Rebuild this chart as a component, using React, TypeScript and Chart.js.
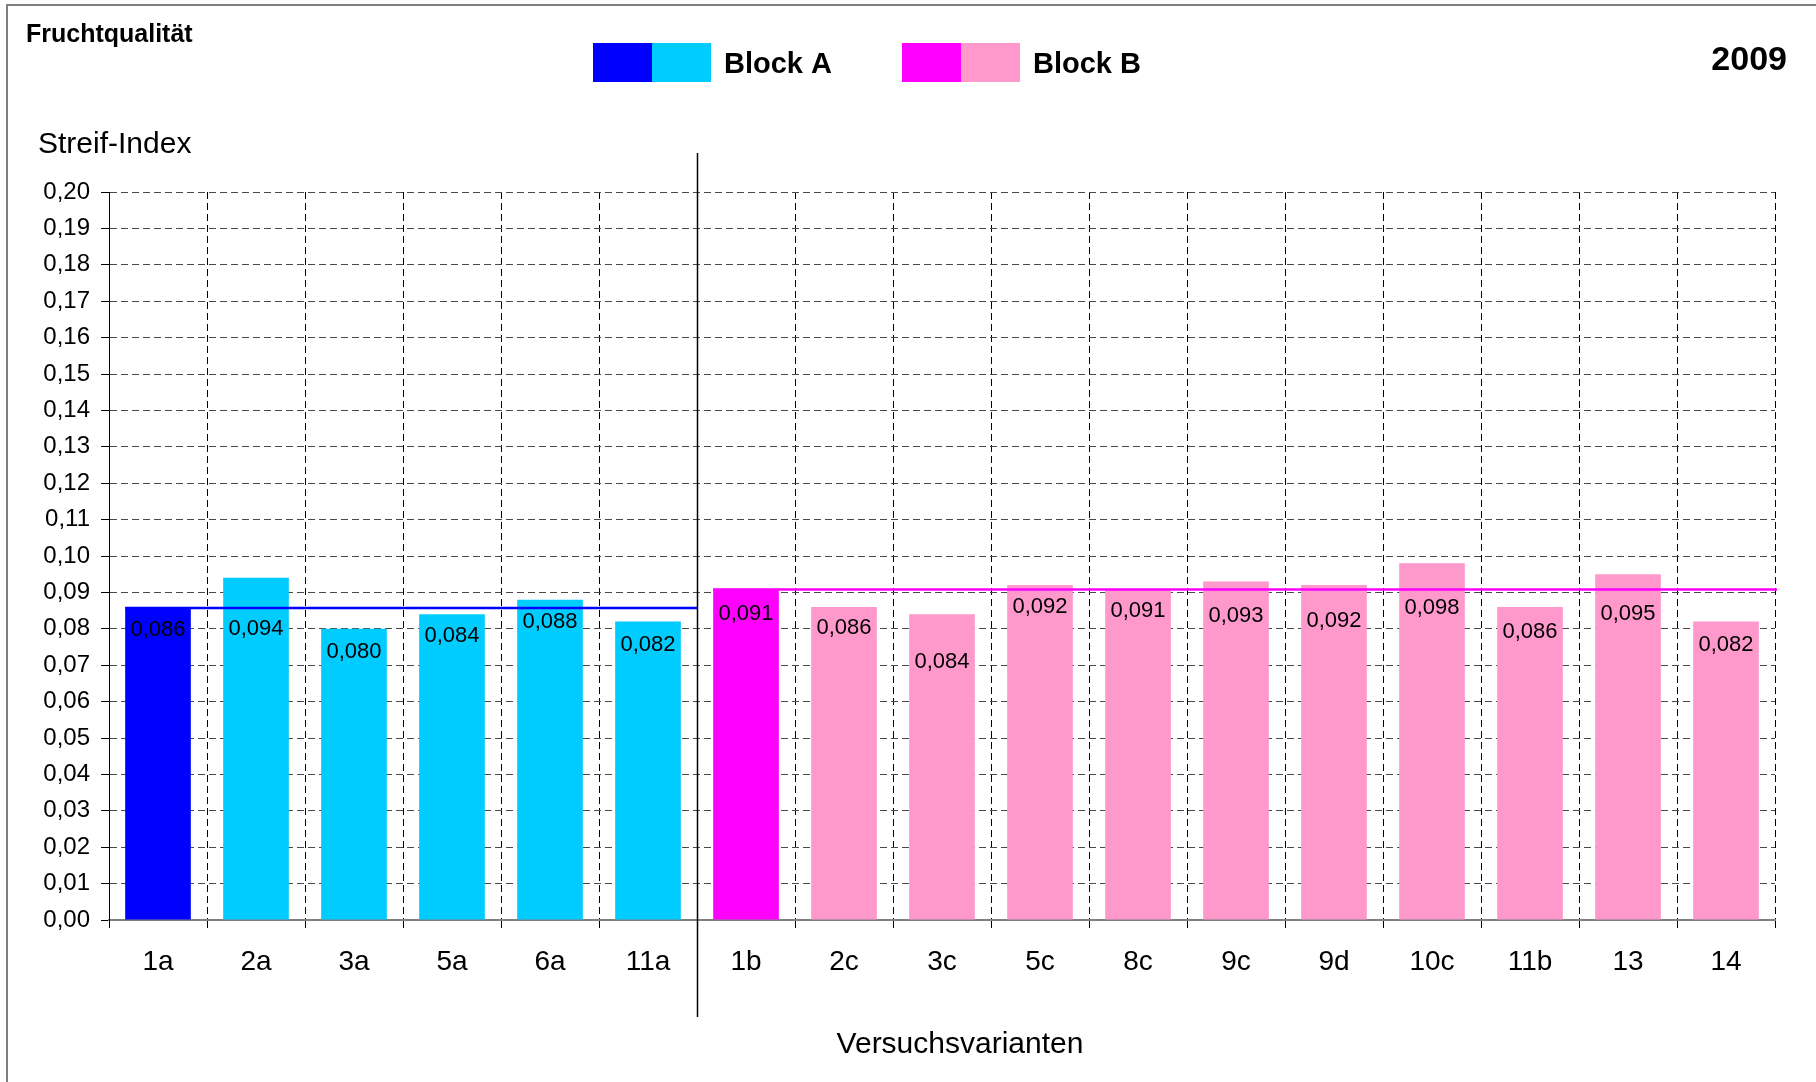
import { useEffect, useRef } from "react";
import { Chart, registerables } from "chart.js";

Chart.register(...registerables);

// Versuchsvarianten, split into the two blocks
const blockALabels = ["1a", "2a", "3a", "5a", "6a", "11a"];
const blockBLabels = ["1b", "2c", "3c", "5c", "8c", "9c", "9d", "10c", "11b", "13", "14"];

// Streif-Index per variant
const blockAValues = [0.086, 0.094, 0.08, 0.084, 0.088, 0.082];
const blockBValues = [0.091, 0.086, 0.084, 0.092, 0.091, 0.093, 0.092, 0.098, 0.086, 0.095, 0.082];

// block averages (horizontal reference lines)
const blockMeans = [0.0857, 0.0908];

// value axis range
const yMin = 0;
const yMax = 0.2;
const yStep = 0.01;

// how far each value label sits below its bar top (px)
const valueLabelDrop = [23, 51, 23, 22, 22, 23, 25, 21, 48, 22, 22, 34, 36, 45, 25, 40, 23];

const FONT = "'Liberation Sans', Arial, Helvetica, sans-serif";
const DARK_BLUE = "#0000FF";
const CYAN = "#00CCFF";
const MAGENTA = "#FF00FF";
const PINK = "#FF99CC";

const categories = [...blockALabels, ...blockBLabels];
const values = [...blockAValues, ...blockBValues];
const nA = blockALabels.length;

const barColor = (i: number) =>
  i === 0 ? DARK_BLUE : i < nA ? CYAN : i === nA ? MAGENTA : PINK;

const fmt = (v: number, digits: number) => v.toFixed(digits).replace(".", ",");

const overlayPlugin = {
  id: "overlay",
  afterDatasetsDraw(chart: any) {
    const { ctx, chartArea, scales } = chart;
    const x = scales.x;
    const y = scales.y;
    const bars = chart.getDatasetMeta(0).data;
    const sepX = Math.round((x.getPixelForValue(nA - 1) + x.getPixelForValue(nA)) / 2);

    ctx.save();
    // block averages
    ctx.lineWidth = 2.5;
    const firstA = bars[0].getProps(["x", "width"], true);
    const yA = y.getPixelForValue(blockMeans[0]);
    ctx.strokeStyle = DARK_BLUE;
    ctx.beginPath();
    ctx.moveTo(firstA.x - firstA.width / 2, yA);
    ctx.lineTo(sepX, yA);
    ctx.stroke();

    const firstB = bars[nA].getProps(["x", "width"], true);
    const yB = y.getPixelForValue(blockMeans[1]);
    ctx.strokeStyle = MAGENTA;
    ctx.beginPath();
    ctx.moveTo(firstB.x - firstB.width / 2, yB);
    ctx.lineTo(chartArea.right + 2, yB);
    ctx.stroke();

    // value labels
    ctx.fillStyle = "#000";
    ctx.font = `22px ${FONT}`;
    ctx.textAlign = "center";
    ctx.textBaseline = "middle";
    values.forEach((v, i) => {
      const bx = bars[i].getProps(["x"], true).x;
      ctx.fillText(fmt(v, 3), bx, y.getPixelForValue(v) + valueLabelDrop[i]);
    });

    // block separator
    ctx.strokeStyle = "#000";
    ctx.lineWidth = 1.5;
    ctx.beginPath();
    ctx.moveTo(sepX + 0.5, chartArea.top - 39);
    ctx.lineTo(sepX + 0.5, chartArea.bottom + 97);
    ctx.stroke();
    ctx.restore();
  },
  afterDraw(chart: any) {
    const { ctx, width, height } = chart;
    ctx.save();

    // frame
    ctx.strokeStyle = "#808080";
    ctx.lineWidth = 2;
    ctx.beginPath();
    ctx.moveTo(7, height);
    ctx.lineTo(7, 5);
    ctx.lineTo(width, 5);
    ctx.stroke();

    ctx.fillStyle = "#000";
    ctx.textBaseline = "alphabetic";

    ctx.textAlign = "left";
    ctx.font = `bold 25px ${FONT}`;
    ctx.fillText("Fruchtqualität", 26, 42);

    ctx.textAlign = "right";
    ctx.font = `bold 34px ${FONT}`;
    ctx.fillText("2009", 1787, 70);

    // legend
    const swW = 59;
    const swTop = 43;
    const swH = 39;
    const legend = [
      { x: 593, colors: [DARK_BLUE, CYAN], text: "Block A" },
      { x: 902, colors: [MAGENTA, PINK], text: "Block B" },
    ];
    ctx.textAlign = "left";
    ctx.font = `bold 29px ${FONT}`;
    legend.forEach((item) => {
      ctx.fillStyle = item.colors[0];
      ctx.fillRect(item.x, swTop, swW, swH);
      ctx.fillStyle = item.colors[1];
      ctx.fillRect(item.x + swW, swTop, swW, swH);
      ctx.fillStyle = "#000";
      ctx.fillText(item.text, item.x + 2 * swW + 13, 73);
    });

    // axis titles
    ctx.font = `30px ${FONT}`;
    ctx.textAlign = "left";
    ctx.fillText("Streif-Index", 38, 153);
    ctx.textAlign = "center";
    ctx.fillText("Versuchsvarianten", 960, 1053);

    ctx.restore();
  },
};

export default function App() {
  const canvasRef = useRef<HTMLCanvasElement | null>(null);

  useEffect(() => {
    const canvas = canvasRef.current;
    if (!canvas) return;
    const chart = new Chart(canvas, {
      type: "bar",
      data: {
        labels: categories,
        datasets: [
          {
            data: values,
            backgroundColor: values.map((_, i) => barColor(i)),
            borderWidth: 0,
            barPercentage: 0.67,
            categoryPercentage: 1,
          },
        ],
      },
      options: {
        responsive: false,
        animation: false,
        devicePixelRatio: 1,
        layout: { padding: { top: 192, right: 41, left: 0, bottom: 0 } },
        plugins: {
          legend: { display: false },
          tooltip: { enabled: false },
          title: { display: false },
        },
        scales: {
          x: {
            grid: {
              color: "#000",
              lineWidth: 1,
              offset: true,
              tickLength: 8,
              tickColor: "#000",
            },
            border: { display: true, color: "#808080", width: 2, dash: [7, 4] },
            ticks: {
              color: "#000",
              font: { family: FONT, size: 28 },
              padding: 17,
              autoSkip: false,
              maxRotation: 0,
            },
            afterFit(scale: any) {
              scale.height = 162;
            },
          },
          y: {
            min: yMin,
            max: yMax,
            grid: { color: "#4a4a4a", lineWidth: 1, tickLength: 8, tickColor: "#000" },
            border: { display: true, color: "#000", width: 1, dash: [7, 4] },
            ticks: {
              stepSize: yStep,
              maxTicksLimit: 25,
              color: "#000",
              font: { family: FONT, size: 24 },
              padding: 11,
              callback: (v: any) => fmt(Number(v), 2),
            },
            afterFit(scale: any) {
              scale.width = 109;
            },
          },
        },
      },
      plugins: [overlayPlugin],
    } as any);
    return () => chart.destroy();
  }, []);

  return (
    <div
      style={{
        position: "fixed",
        left: 0,
        top: 0,
        width: 1816,
        height: 1082,
        background: "#fff",
      }}
    >
      <canvas ref={canvasRef} width={1816} height={1082} style={{ display: "block" }} />
    </div>
  );
}
